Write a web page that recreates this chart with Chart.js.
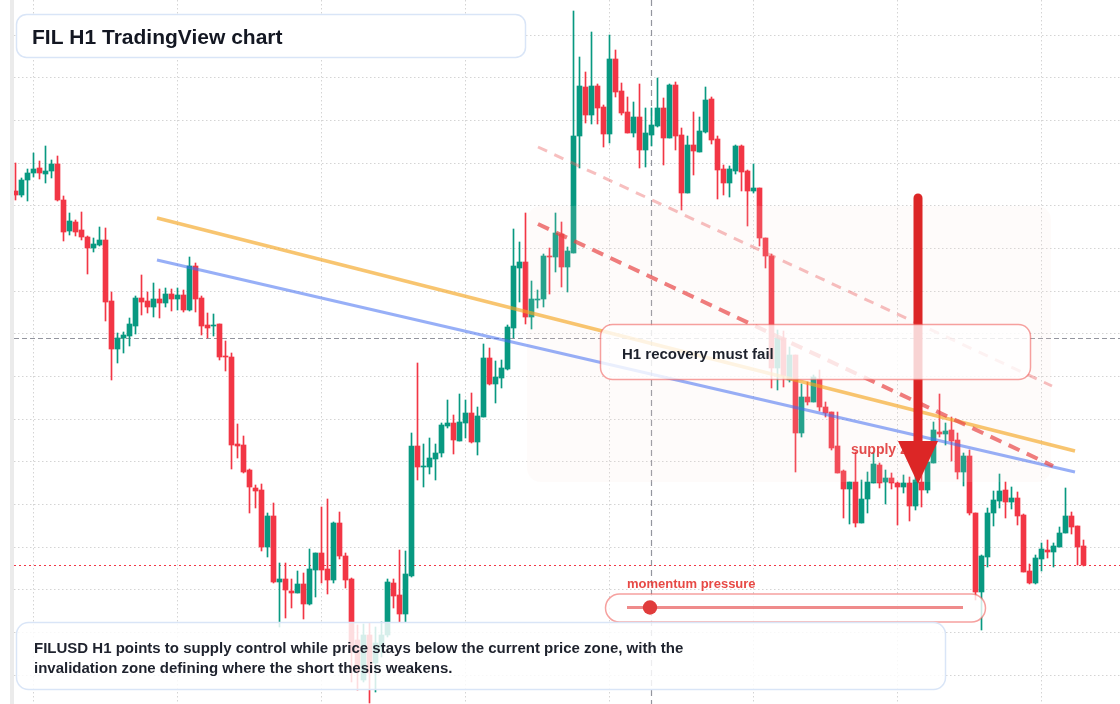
<!DOCTYPE html>
<html><head><meta charset="utf-8">
<script src="https://cdn.jsdelivr.net/npm/chart.js@4.4.1/dist/chart.umd.min.js"></script>
<style>html,body{margin:0;padding:0;background:#fff;overflow:hidden}canvas{display:block}</style>
</head><body><canvas id="c" width="1120" height="704"></canvas>
<script>
// ---- data (FILUSD, H1 candles) ----
const OPEN=[4.809,4.805,4.820,4.827,4.832,4.826,4.829,4.836,4.800,4.769,
4.778,4.770,4.763,4.752,4.755,4.760,4.699,4.651,4.662,4.664,
4.674,4.702,4.699,4.693,4.701,4.697,4.706,4.701,4.705,4.690,
4.734,4.702,4.675,4.674,4.676,4.644,4.643,4.556,4.555,4.530,
4.512,4.510,4.453,4.484,4.418,4.421,4.409,4.407,4.416,4.396,
4.430,4.447,4.431,4.420,4.477,4.444,4.421,4.360,4.320,4.365,
4.337,4.352,4.365,4.417,4.405,4.386,4.424,4.554,4.533,4.533,
4.541,4.547,4.574,4.577,4.559,4.577,4.587,4.558,4.583,4.642,
4.616,4.622,4.631,4.672,4.732,4.738,4.683,4.700,4.701,4.744,
4.743,4.766,4.733,4.747,4.864,4.913,4.885,4.914,4.893,4.866,
4.941,4.909,4.888,4.867,4.883,4.850,4.865,4.874,4.892,4.862,
4.915,4.865,4.807,4.855,4.848,4.868,4.901,4.861,4.831,4.817,
4.829,4.854,4.829,4.809,4.812,4.762,4.744,4.632,4.662,4.620,
4.645,4.567,4.603,4.598,4.621,4.593,4.588,4.554,4.529,4.511,
4.518,4.477,4.501,4.517,4.535,4.518,4.522,4.517,4.513,4.517,
4.494,4.518,4.510,4.537,4.568,4.566,4.570,4.560,4.528,4.544,
4.487,4.408,4.443,4.487,4.499,4.510,4.498,4.502,4.485,4.429,
4.417,4.441,4.450,4.448,4.453,4.467,4.484,4.474,4.454];
const HIGH=[4.837,4.822,4.831,4.847,4.839,4.854,4.840,4.844,4.804,4.787,
4.780,4.788,4.764,4.762,4.773,4.772,4.708,4.667,4.668,4.682,
4.704,4.725,4.708,4.717,4.711,4.712,4.711,4.712,4.710,4.743,
4.737,4.704,4.687,4.686,4.676,4.659,4.647,4.576,4.564,4.531,
4.515,4.516,4.487,4.497,4.437,4.437,4.421,4.429,4.427,4.451,
4.447,4.493,4.501,4.478,4.488,4.447,4.422,4.375,4.376,4.377,
4.373,4.378,4.421,4.421,4.450,4.449,4.567,4.637,4.556,4.562,
4.556,4.577,4.600,4.585,4.606,4.600,4.607,4.593,4.656,4.652,
4.639,4.640,4.675,4.771,4.758,4.787,4.719,4.710,4.746,4.752,
4.787,4.778,4.753,4.989,4.943,4.928,4.968,4.916,4.895,4.965,
4.950,4.917,4.903,4.898,4.916,4.892,4.892,4.922,4.902,4.916,
4.918,4.872,4.864,4.888,4.883,4.913,4.903,4.864,4.835,4.834,
4.855,4.855,4.830,4.836,4.812,4.762,4.746,4.670,4.669,4.653,
4.645,4.616,4.618,4.625,4.630,4.598,4.588,4.588,4.530,4.518,
4.548,4.520,4.528,4.547,4.537,4.530,4.527,4.518,4.525,4.523,
4.527,4.527,4.552,4.578,4.606,4.577,4.583,4.567,4.547,4.550,
4.487,4.445,4.492,4.509,4.526,4.518,4.513,4.508,4.486,4.436,
4.445,4.457,4.460,4.457,4.473,4.512,4.488,4.474,4.460];
const LOW=[4.800,4.803,4.799,4.823,4.821,4.817,4.822,4.799,4.759,4.765,
4.764,4.760,4.726,4.748,4.754,4.679,4.620,4.637,4.647,4.654,
4.666,4.685,4.687,4.683,4.682,4.693,4.689,4.690,4.688,4.689,
4.688,4.665,4.662,4.664,4.640,4.629,4.531,4.542,4.527,4.487,
4.492,4.449,4.443,4.417,4.373,4.382,4.392,4.407,4.381,4.395,
4.403,4.417,4.406,4.417,4.441,4.412,4.318,4.310,4.318,4.297,
4.308,4.343,4.363,4.392,4.378,4.378,4.423,4.520,4.513,4.526,
4.520,4.543,4.572,4.546,4.559,4.562,4.557,4.545,4.583,4.615,
4.597,4.612,4.630,4.662,4.698,4.676,4.671,4.692,4.693,4.706,
4.728,4.713,4.708,4.747,4.832,4.877,4.876,4.876,4.853,4.857,
4.903,4.885,4.867,4.863,4.832,4.833,4.854,4.873,4.835,4.862,
4.850,4.790,4.807,4.825,4.848,4.867,4.856,4.801,4.805,4.803,
4.826,4.809,4.774,4.807,4.754,4.732,4.612,4.610,4.613,4.618,
4.528,4.563,4.595,4.598,4.589,4.583,4.550,4.527,4.482,4.476,
4.473,4.477,4.487,4.517,4.512,4.496,4.511,4.475,4.507,4.479,
4.490,4.493,4.507,4.537,4.563,4.555,4.539,4.521,4.514,4.485,
4.400,4.370,4.433,4.474,4.492,4.482,4.491,4.475,4.428,4.416,
4.416,4.429,4.442,4.433,4.453,4.467,4.466,4.435,4.434];
const CLOSE=[4.805,4.820,4.827,4.831,4.827,4.829,4.836,4.800,4.768,4.779,
4.768,4.763,4.752,4.756,4.760,4.698,4.651,4.662,4.665,4.676,
4.702,4.698,4.693,4.701,4.697,4.706,4.701,4.705,4.690,4.734,
4.701,4.674,4.672,4.675,4.643,4.643,4.555,4.554,4.528,4.513,
4.509,4.453,4.484,4.418,4.421,4.410,4.407,4.416,4.396,4.431,
4.447,4.430,4.420,4.477,4.444,4.420,4.348,4.328,4.365,4.327,
4.357,4.365,4.418,4.404,4.386,4.426,4.554,4.533,4.534,4.542,
4.547,4.575,4.577,4.560,4.578,4.587,4.558,4.584,4.642,4.616,
4.623,4.632,4.673,4.734,4.738,4.683,4.701,4.701,4.744,4.743,
4.767,4.733,4.749,4.864,4.914,4.885,4.914,4.892,4.866,4.941,
4.908,4.887,4.867,4.883,4.850,4.867,4.875,4.892,4.862,4.915,
4.864,4.807,4.855,4.849,4.869,4.900,4.860,4.830,4.817,4.831,
4.854,4.828,4.809,4.812,4.762,4.744,4.632,4.662,4.624,4.645,
4.567,4.603,4.598,4.623,4.593,4.587,4.552,4.527,4.511,4.518,
4.477,4.501,4.518,4.536,4.517,4.522,4.517,4.513,4.517,4.494,
4.520,4.510,4.538,4.570,4.566,4.569,4.559,4.528,4.544,4.487,
4.408,4.444,4.487,4.500,4.509,4.498,4.502,4.484,4.428,4.417,
4.442,4.451,4.448,4.454,4.467,4.484,4.473,4.453,4.435];

// trend lines: [candle index], [price]
const orangeX=[23.58,176.58], orangeY=[4.782,4.549];
const blueX=[23.58,176.58],   blueY=[4.740,4.528];
const resistX=[87.08,172.92], resistY=[4.776,4.534];
const upperX=[87.08,172.75],  upperY=[4.853,4.614];
const crosshairIndex=106, crosshairPrice=4.662;
const gridIndex=[3,27,51,75,99,123,147,171];

const UP='#089981', DOWN='#f23645';
const idx=OPEN.map((_,i)=>i);
const isUp=i=>CLOSE[i]>=OPEN[i];
const FONT='"Liberation Sans", Arial, Helvetica, sans-serif';
const GRID='#d4d4d4';

function rr(ctx,x,y,w,h,r){ctx.beginPath();ctx.moveTo(x+r,y);ctx.lineTo(x+w-r,y);ctx.arcTo(x+w,y,x+w,y+r,r);ctx.lineTo(x+w,y+h-r);ctx.arcTo(x+w,y+h,x+w-r,y+h,r);ctx.lineTo(x+r,y+h);ctx.arcTo(x,y+h,x,y+h-r,r);ctx.lineTo(x,y+r);ctx.arcTo(x,y,x+r,y,r);ctx.closePath();}

const overlay={
 id:'overlay',
 beforeDraw(chart){const c=chart.ctx;c.save();c.fillStyle='#fff';c.fillRect(0,0,chart.width,chart.height);c.fillStyle='#ebebeb';c.fillRect(10,0,4,chart.height);c.restore();},
 beforeDatasetsDraw(chart){
  const c=chart.ctx,a=chart.chartArea,x=chart.scales.x,y=chart.scales.y;
  c.save();
  // vertical time grid from the x scale
  c.strokeStyle=GRID;c.lineWidth=1;c.setLineDash([1.5,2.5]);
  gridIndex.forEach(v=>{const px=x.getPixelForValue(v);c.beginPath();c.moveTo(px,a.top);c.lineTo(px,a.bottom);c.stroke();});
  // crosshair
  c.strokeStyle='rgba(120,123,134,0.8)';c.lineWidth=1.2;
  c.setLineDash([6,4]);
  const cx=x.getPixelForValue(crosshairIndex);
  c.beginPath();c.moveTo(cx,a.top);c.lineTo(cx,a.bottom);c.stroke();
  c.setLineDash([5,3]);
  const cy=Math.round(y.getPixelForValue(crosshairPrice))+0.5;
  c.beginPath();c.moveTo(a.left,cy);c.lineTo(a.right,cy);c.stroke();
  // last price line
  c.strokeStyle=DOWN;c.lineWidth=1.2;c.setLineDash([2,3]);
  const ly=Math.round(y.getPixelForValue(CLOSE[CLOSE.length-1]))+0.5;
  c.beginPath();c.moveTo(a.left,ly);c.lineTo(a.right,ly);c.stroke();
  c.restore();
 },
 afterDatasetDraw(chart,args){
  if(args.index!==1)return;
  const c=chart.ctx;c.save();
  rr(c,527,206,524,276,14);c.fillStyle='rgba(250,226,215,0.13)';c.fill();
  c.restore();
 },
 afterDatasetsDraw(chart){
  const c=chart.ctx;c.save();
  // supply zone label
  c.font='bold 14px '+FONT;c.fillStyle='rgba(222,45,45,0.85)';c.textBaseline='alphabetic';
  c.fillText('supply zone',851,453.5);
  // arrow
  c.strokeStyle='#dc2626';c.fillStyle='#dc2626';c.lineWidth=9;c.lineCap='round';
  c.beginPath();c.moveTo(918,198);c.lineTo(918,446);c.stroke();
  c.beginPath();c.moveTo(898,441);c.lineTo(938,441);c.lineTo(918,484);c.closePath();c.fill();
  // H1 box
  rr(c,600.5,324.5,430,55,12);c.fillStyle='rgba(255,255,255,0.8)';c.fill();
  c.lineWidth=1.5;c.strokeStyle='rgba(239,83,80,0.55)';c.stroke();
  c.font='bold 15px '+FONT;c.fillStyle='#1e222d';c.fillText('H1 recovery must fail',622,359);
  // momentum
  c.font='bold 13px '+FONT;c.fillStyle='rgba(229,57,53,0.92)';c.fillText('momentum pressure',627,587.5);
  rr(c,605.5,594,380,28,14);c.fillStyle='rgba(255,255,255,0.8)';c.fill();
  c.lineWidth=1.5;c.strokeStyle='rgba(239,83,80,0.55)';c.stroke();
  c.lineCap='butt';c.lineWidth=3;c.strokeStyle='rgba(232,90,90,0.7)';
  c.beginPath();c.moveTo(627,607.5);c.lineTo(963,607.5);c.stroke();
  c.beginPath();c.arc(650,607.5,7.2,0,Math.PI*2);c.fillStyle='#e03c3c';c.fill();
  // bottom box
  rr(c,16.5,622.5,929,67,12);c.fillStyle='rgba(255,255,255,0.83)';c.fill();
  c.lineWidth=1.5;c.strokeStyle='#d9e5f7';c.stroke();
  c.font='bold 15px '+FONT;c.fillStyle='#1e222d';
  c.fillText('FILUSD H1 points to supply control while price stays below the current price zone, with the',34,653);
  c.fillText('invalidation zone defining where the short thesis weakens.',34,672.5);
  // title
  rr(c,16.5,14.5,509,43,10);c.fillStyle='#fff';c.fill();
  c.lineWidth=1.5;c.strokeStyle='#d9e5f7';c.stroke();
  c.font='bold 21px '+FONT;c.fillStyle='#131722';c.fillText('FIL H1 TradingView chart',32,43.5);
  c.restore();
 }
};

const lineDs=(X,Y,color,w,dash,ord)=>({type:'line',data:X.map((v,i)=>({x:v,y:Y[i]})),borderColor:color,borderWidth:w,borderDash:dash,pointRadius:0,fill:false,tension:0,order:ord,borderCapStyle:'butt'});

new Chart(document.getElementById('c'),{
 type:'bar',
 data:{datasets:[
  {label:'wick',data:idx.map(i=>({x:i,y:[LOW[i],HIGH[i]]})),backgroundColor:idx.map(i=>isUp(i)?UP:DOWN),barThickness:1,grouped:false,borderWidth:0,order:6},
  {label:'body',data:idx.map(i=>({x:i,y:[OPEN[i],CLOSE[i]]})),backgroundColor:idx.map(i=>isUp(i)?UP:DOWN),barThickness:5,grouped:false,borderWidth:0,minBarLength:1,order:5},
  lineDs(orangeX,orangeY,'rgba(245,166,35,0.65)',3.5,[],2),
  lineDs(blueX,blueY,'rgba(66,110,240,0.55)',3,[],3),
  lineDs(upperX,upperY,'rgba(235,95,95,0.4)',3,[10,8],1),
  lineDs(resistX,resistY,'rgba(232,70,70,0.7)',4,[12,8],0)
 ]},
 options:{
  responsive:false,animation:false,devicePixelRatio:1,
  layout:{padding:{left:14,right:0,top:0,bottom:0}},
  plugins:{legend:{display:false},tooltip:{enabled:false}},
  scales:{
   x:{type:'linear',min:-0.25,max:184.0833,bounds:'data',offset:false,
      ticks:{display:false},grid:{display:false,offset:false,drawTicks:false},border:{display:false}},
   y:{type:'linear',min:4.296,max:5.0,bounds:'data',
      ticks:{display:false},grid:{offset:false,drawTicks:false,color:GRID,lineWidth:1},border:{display:false,dash:[1.5,2.5]},
      afterBuildTicks:s=>{const t=[];for(let k=0;k<17;k++){const v=4.96467-0.0426667*k;if(v>4.296)t.push({value:v});}s.ticks=t;}}
  }
 },
 plugins:[overlay]
});
</script></body></html>
